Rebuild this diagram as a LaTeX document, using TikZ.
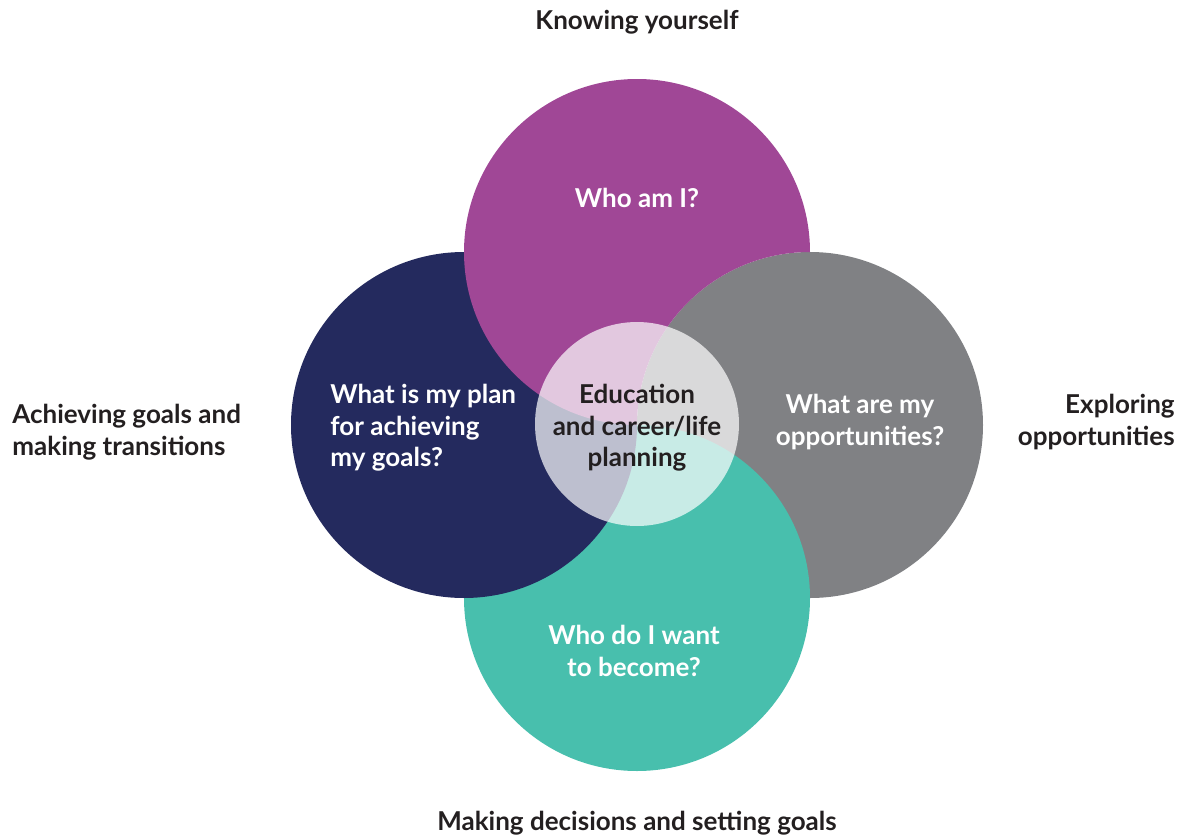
\documentclass[tikz,border=0pt]{standalone}
\usepackage{fontspec}
\setmainfont{Lato}
\definecolor{knowpurple}{HTML}{A04796}
\definecolor{plannavy}{HTML}{242A5E}
\definecolor{oppgray}{HTML}{808184}
\definecolor{goalteal}{HTML}{48BFAD}
\definecolor{labeltext}{HTML}{231F20}
\tikzset{
	question/.style={text=white, font=\bfseries\fontsize{14.8}{17.9}\selectfont, align=center, inner sep=0pt},
	outer/.style={text=labeltext, font=\bfseries\fontsize{14.8}{17.9}\selectfont, inner sep=0pt}
}

\begin{document}
\begin{tikzpicture}[x=0.2mm, y=-0.2mm]
			%%%%% START %%%%%
			\useasboundingbox (0, 0) rectangle (1183, 838);
			
			\fill[oppgray] (810, 425) circle (173);
			\fill[goalteal] (637, 598) circle (173);
			\fill[plannavy] (464, 425) circle (173);
			
			% purple goes under the grey one only
			\fill[knowpurple] (810, 252) arc (0:-270:173) arc (180:270:173) -- cycle;
			
			\fill[white, opacity=0.7] (637, 424) circle (102);
			
			\node[question] (whoami) at (637, 198) {Who am I?};
			\node[question, align=left, anchor=west] (plan) at (330, 428) {What is my plan\\for achieving\\my goals?};
			\node[question] (opps) at (860, 422) {What are my\\opportunities?};
			\node[question] (become) at (634, 651) {Who do I want\\to become?};
			\node[question, text=labeltext] (centre) at (637, 428) {Education\\and career/life\\planning};
			
			\node[outer] (knowing) at (637, 22) {Knowing yourself};
			\node[outer, align=left, anchor=west] (achieving) at (12, 432) {Achieving goals and\\making transitions};
			\node[outer, align=right, anchor=east] (exploring) at (1175, 422) {Exploring\\opportunities};
			\node[outer] (deciding) at (637, 823) {Making decisions and setting goals};
			
			%%%%% END %%%%%
\end{tikzpicture}
\end{document}
